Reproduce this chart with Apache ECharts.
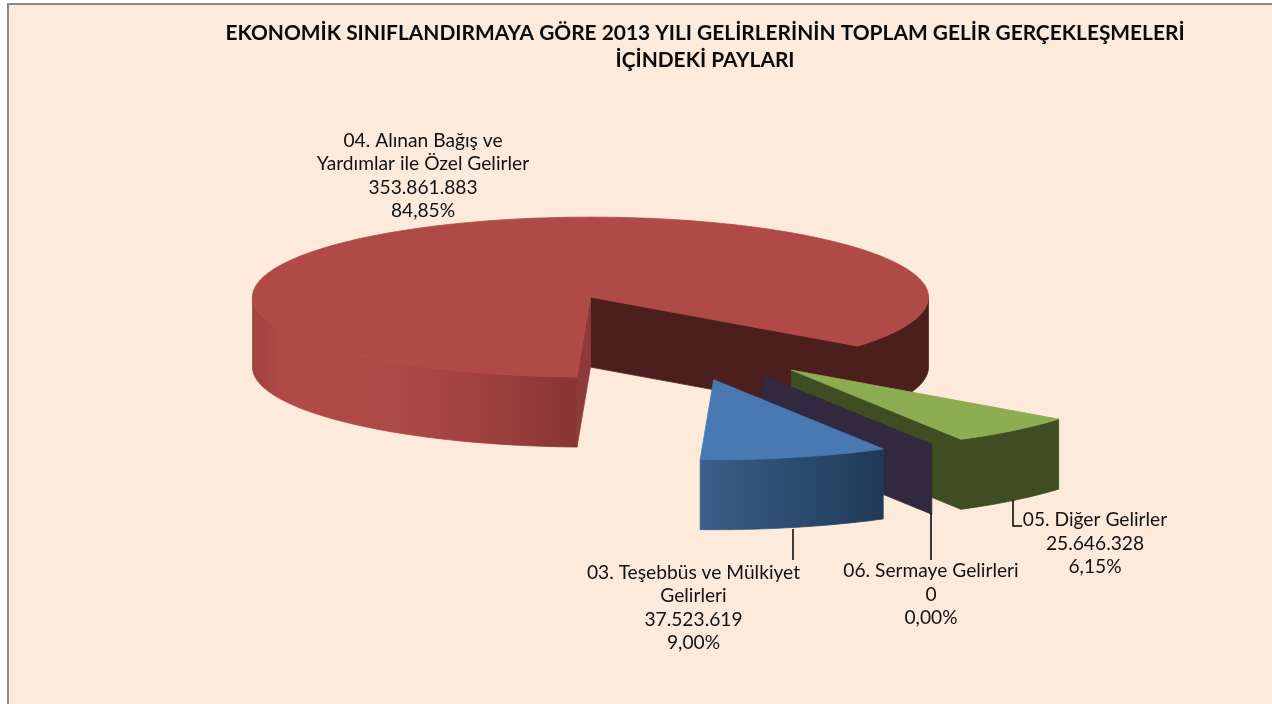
<!DOCTYPE html>
<html><head><meta charset="utf-8">
<style>html,body{margin:0;padding:0;background:#fff}#c{width:1272px;height:704px}</style>
<script src="https://cdn.jsdelivr.net/npm/echarts@6/dist/echarts.min.js"></script>
</head><body><div id="c"></div>
<script>
const titleLines = ['EKONOMİK SINIFLANDIRMAYA GÖRE 2013 YILI GELİRLERİNİN TOPLAM GELİR GERÇEKLEŞMELERİ', 'İÇİNDEKİ PAYLARI'];
const categories = ['03. Teşebbüs ve Mülkiyet\nGelirleri', '04. Alınan Bağış ve\nYardımlar ile Özel Gelirler', '05. Diğer Gelirler', '06. Sermaye Gelirleri'];
const values = [37523619, 353861883, 25646328, 0];
const paintOrder = [1, 2, 3, 0];

// Layout and style of the pseudo-3D pie (kept apart from the data)
const pie = {cx: 669, cy: 337, rx: 338, ry: 80, depth: 70, explodeX: 186, explodeY: 44, firstAngle: 59.9};
const font = 'Lato, Carlito, Calibri, sans-serif';
const grad = (x0, x1, stops) => new echarts.graphic.LinearGradient(x0, 0, x1, 0,
  stops.map(s => ({offset: s[0], color: s[1]})), true);
const looks = [
  {top: '#4879b2', wall: '#2d4d72', rim: () => grad(699, 882, [[0, '#3a5f8b'], [0.5, '#2c4d70'], [1, '#203a58']])},
  {top: '#b04a47', wall: '#8f3a38', endWall: '#4c1f1e',
   rim: a => a > 300 ? '#4c1f1e' : grad(252, 576, [[0, '#a04341'], [0.1, '#b04a47'], [0.45, '#ad4946'], [0.75, '#9c403d'], [1, '#873633']])},
  {top: '#8eac52', wall: '#3f4d22', rim: () => '#3f4d22'},
  {top: '#5f4a80', wall: '#322840', rim: () => '#322840'}
];
const labelPos = [{x: 693.5, y: 608}, {x: 423, y: 176}, {x: 1095, y: 543.5}, {x: 931, y: 594.5}];
const leaders = [
  [[793, 529], [793, 560]],
  null,
  [[1013, 500], [1013, 526], [1022, 526]],
  [[931, 513], [931, 560]]
];

const total = values.reduce((a, b) => a + b, 0);
const rad = d => d * Math.PI / 180;
const slices = [];
let cursor = pie.firstAngle;
values.forEach(v => { const sweep = v / total * 360; slices.push({a0: cursor, a1: cursor + sweep}); cursor += sweep; });

const thousand = v => String(v).replace(/\B(?=(\d{3})+$)/g, '.');
const percent = v => (v / total * 100).toFixed(2).replace('.', ',') + '%';

function renderItem(params, api) {
  const i = api.value(0);
  const {a0, a1} = slices[i];
  const look = looks[i];
  const mid = rad((a0 + a1) / 2);
  const tx = pie.cx + pie.explodeX * Math.cos(mid);
  const ty = pie.cy + pie.explodeY * Math.sin(mid);
  const pt = (a, drop) => [tx + pie.rx * Math.cos(rad(a)), ty + pie.ry * Math.sin(rad(a)) + (drop || 0)];
  const arc = (from, to, drop) => {
    const n = Math.max(2, Math.ceil(Math.abs(to - from)));
    const out = [];
    for (let k = 0; k <= n; k++) out.push(pt(from + (to - from) * k / n, drop));
    return out;
  };
  const poly = (points, fill) => ({type: 'polygon', shape: {points}, style: {fill, stroke: fill, lineWidth: 0.8}});
  const wall = (a, fill) => poly([[tx, ty], pt(a), pt(a, pie.depth), [tx, ty + pie.depth]], fill);
  const children = [];

  [[0, 180], [360, 540]].forEach(([lo, hi]) => {
    const f = Math.max(a0, lo), t = Math.min(a1, hi);
    if (t > f) children.push(poly(arc(f, t, 0).concat(arc(t, f, pie.depth)), look.rim(f)));
  });
  if (Math.cos(rad(a1)) > 0) children.push(wall(a1, look.endWall || look.wall));
  if (Math.cos(rad(a0)) < 0) children.push(wall(a0, look.wall));
  if (a1 > a0) children.push(poly([[tx, ty]].concat(arc(a0, a1, 0)), look.top));

  if (leaders[i]) children.push({type: 'polyline', shape: {points: leaders[i]},
    style: {stroke: '#000', lineWidth: 1.5, fill: null}});
  children.push({type: 'text', x: labelPos[i].x, y: labelPos[i].y, style: {
    text: categories[i] + '\n' + thousand(values[i]) + '\n' + percent(values[i]),
    align: 'center', verticalAlign: 'middle', font: '19.2px ' + font, lineHeight: 23.5, fill: '#111'}});
  return {type: 'group', children};
}

const chart = echarts.init(document.getElementById('c'), null, {renderer: 'canvas'});
chart.setOption({
  animation: false,
  backgroundColor: '#ffffff',
  title: {text: titleLines.join('\n'), left: 700, top: 15, textAlign: 'center',
    textStyle: {fontFamily: font, fontWeight: 'bold', fontSize: 20.9, lineHeight: 27, color: '#0a0a0a'}},
  graphic: [{type: 'rect', z: -10, shape: {x: 8, y: 4, width: 1300, height: 800},
    style: {fill: '#fdeadb', stroke: '#8a8a8a', lineWidth: 2}}],
  series: [{type: 'custom', coordinateSystem: 'none', renderItem, silent: true,
    data: paintOrder.map(i => [i, values[i]])}]
});
</script></body></html>
